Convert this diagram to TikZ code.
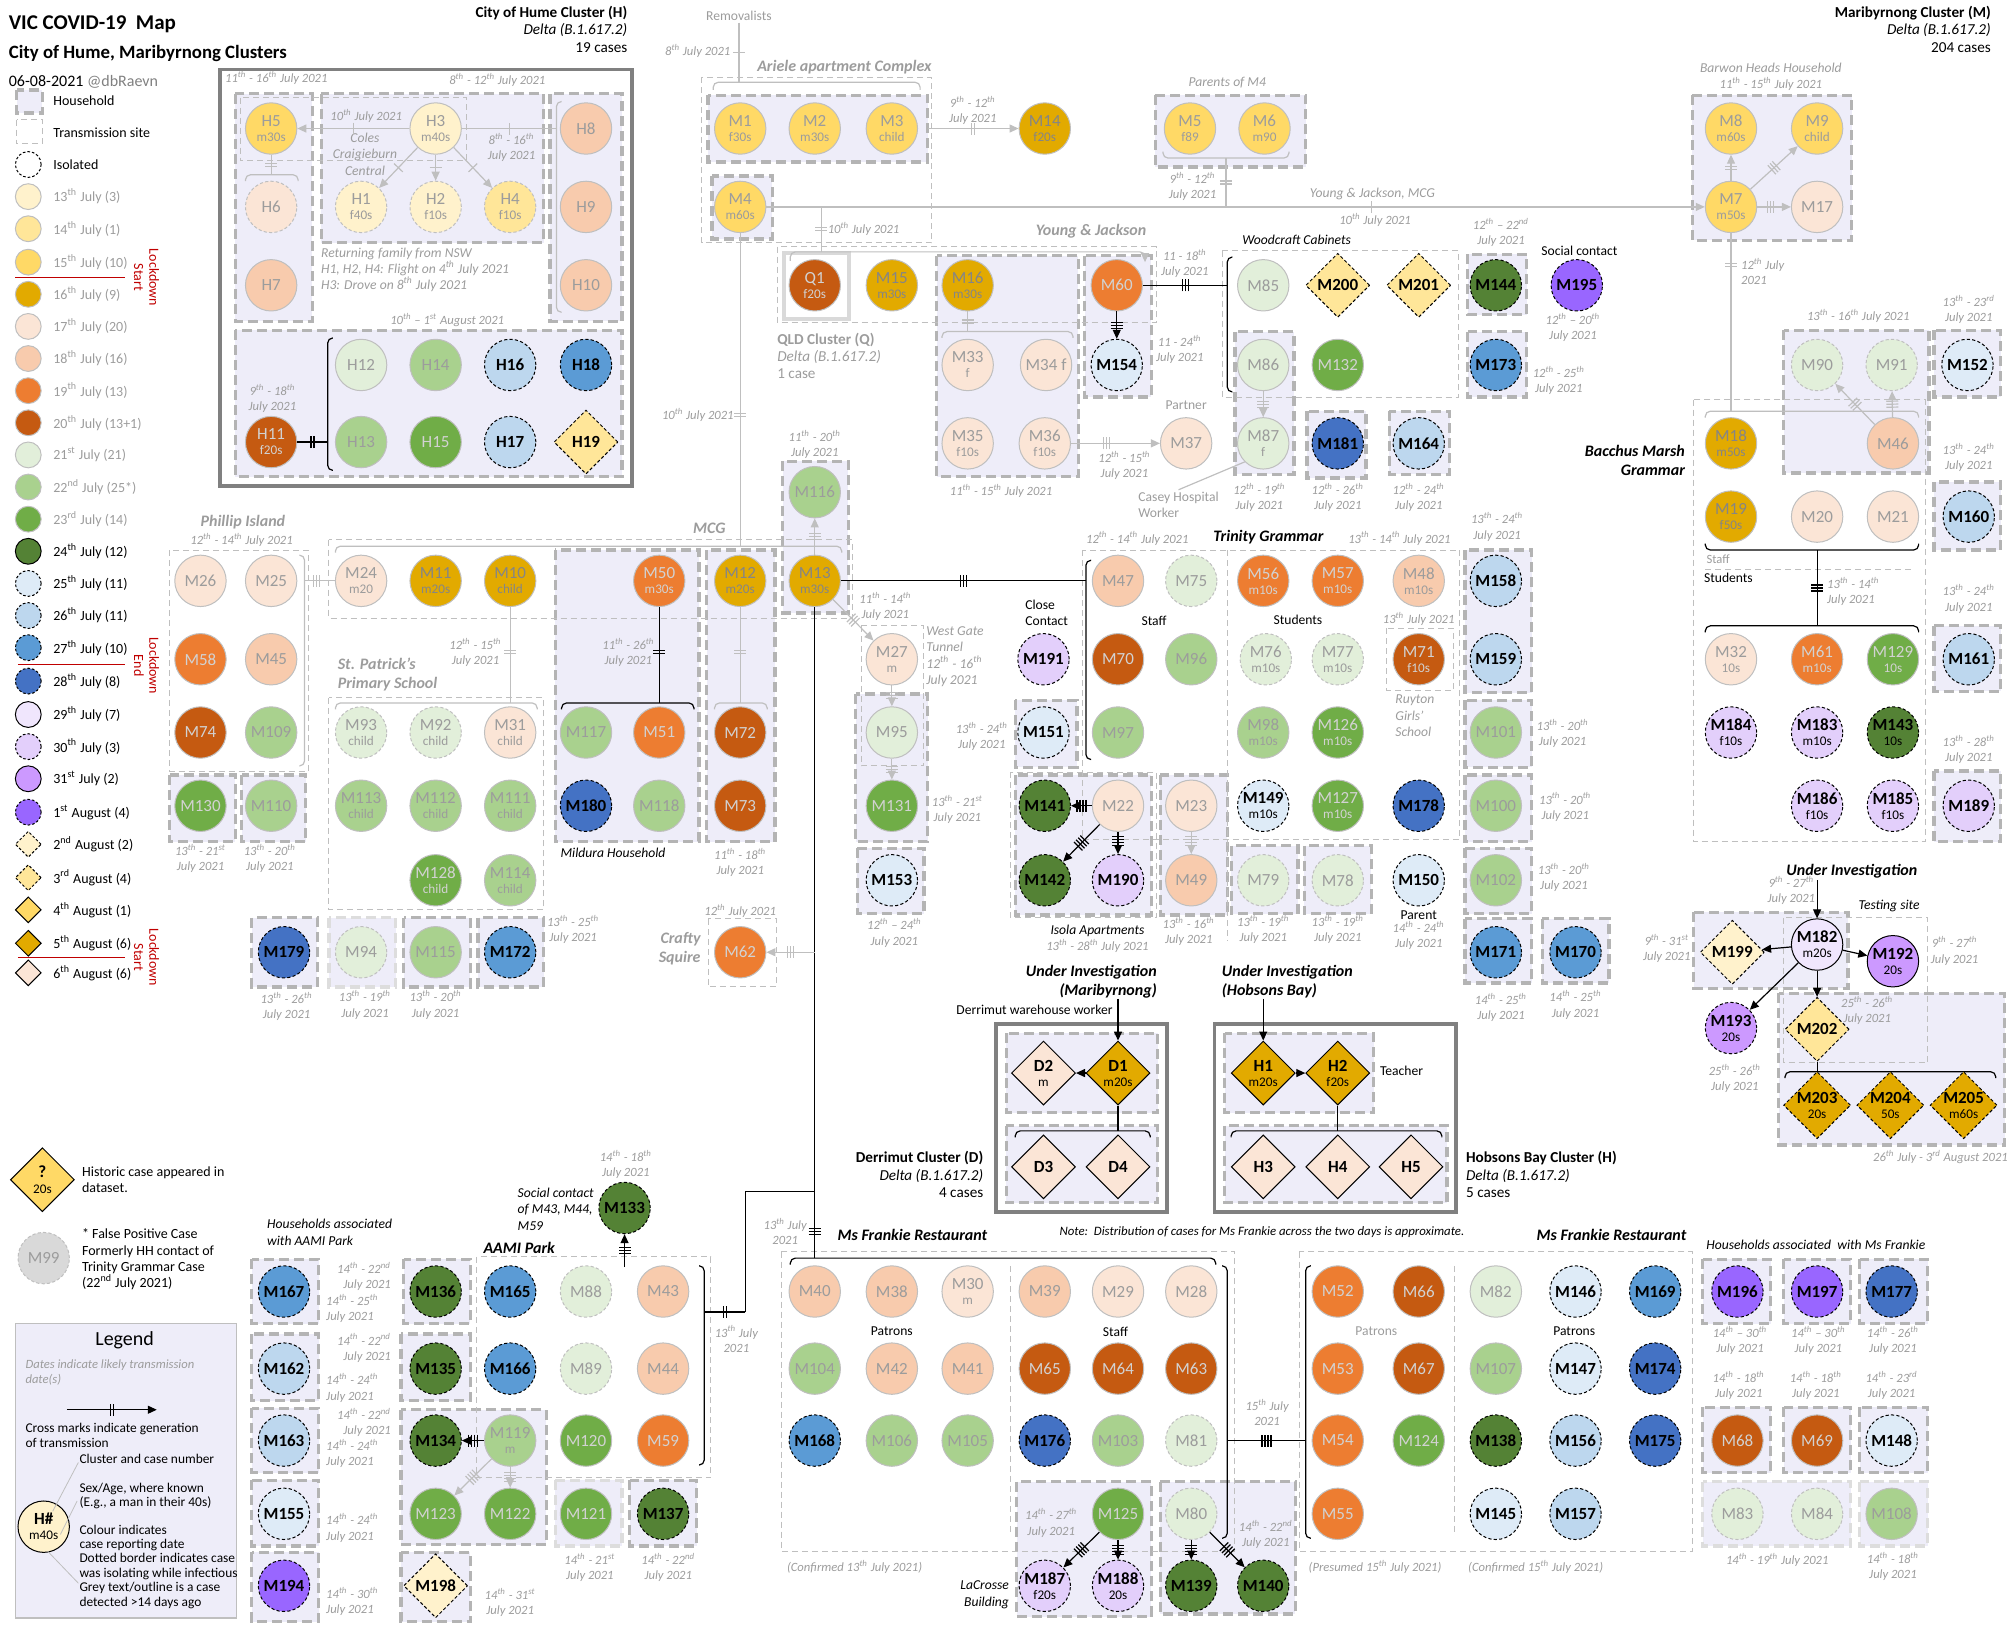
\documentclass[tikz,border=0pt]{standalone}
\usepackage{fontspec}
\setmainfont{Carlito}
\usepackage{tikz}
\usetikzlibrary{positioning,arrows.meta,shapes.geometric,decorations.markings}

% reporting-date colours
\definecolor{c13}{HTML}{FFF2CC}
\definecolor{c14}{HTML}{FFE699}
\definecolor{c15}{HTML}{FFD966}
\definecolor{c16}{HTML}{E2AA00}
\definecolor{c17}{HTML}{FBE5D6}
\definecolor{c18}{HTML}{F8CBAD}
\definecolor{c19}{HTML}{ED7D31}
\definecolor{c20}{HTML}{C55A11}
\definecolor{c21}{HTML}{E2EFDA}
\definecolor{c22}{HTML}{A9D18E}
\definecolor{c23}{HTML}{70AD47}
\definecolor{c24}{HTML}{548235}
\definecolor{c25}{HTML}{DEEBF7}
\definecolor{c26}{HTML}{BDD7EE}
\definecolor{c27}{HTML}{5B9BD5}
\definecolor{c28}{HTML}{4472C4}
\definecolor{c29}{HTML}{F0E6FD}
\definecolor{c30}{HTML}{E3CFFB}
\definecolor{c31}{HTML}{CC99FF}
\definecolor{a1}{HTML}{9966FF}
\definecolor{a2}{HTML}{FFF2CC}
\definecolor{a3}{HTML}{FFE699}
\definecolor{a4}{HTML}{FFD966}
\definecolor{a5}{HTML}{E2AA00}
\definecolor{a6}{HTML}{FBE5D6}
% greys
\definecolor{gtx}{HTML}{9C9C9C}
\definecolor{oln}{HTML}{BFBFBF}
\definecolor{hhd}{HTML}{B4B4B4}
\definecolor{hhf}{HTML}{EEEDF9}
\definecolor{frm}{HTML}{808080}
\definecolor{fpc}{HTML}{D9D9D9}
\definecolor{lkd}{HTML}{C00000}
% grey text on each fill
\colorlet{tc13}{gtx}
\colorlet{tc14}{gtx}
\colorlet{tc15}{gtx}
\definecolor{tc16}{HTML}{858585}
\colorlet{tc17}{gtx}
\colorlet{tc18}{gtx}
\definecolor{tc19}{HTML}{D2D2D2}
\definecolor{tc20}{HTML}{D2D2D2}
\colorlet{tc21}{gtx}
\colorlet{tc22}{gtx}
\definecolor{tc23}{HTML}{D2D2D2}
\colorlet{tfpc}{gtx}

\newcommand{\thx}{\textsuperscript{th}}
\newcommand{\stx}{\textsuperscript{st}}
\newcommand{\ndx}{\textsuperscript{nd}}
\newcommand{\rdx}{\textsuperscript{rd}}
\newcommand{\casefont}{\fontsize{8.5}{9}\selectfont}
\newcommand{\agefont}{\fontsize{6.6}{7}\selectfont}
\newcommand{\datefont}{\fontsize{6.3}{7.6}\selectfont}
\newcommand{\labfont}{\fontsize{6.8}{8.1}\selectfont}
\newcommand{\grpfont}{\fontsize{8}{9.6}\selectfont}
\newcommand{\legfont}{\fontsize{7}{8.2}\selectfont}
\newcommand{\smallfont}{\fontsize{6.7}{7.2}\selectfont}

\begin{document}
\begin{tikzpicture}[x=0.6425pt, y=-0.6425pt,
  font=\labfont,
  cs/.style={circle, minimum size=25.7pt, inner sep=0pt, align=center, font=\casefont, fill=#1},
  old/.style={cs=#1, draw=oln, line width=0.5pt, text=t#1},
  oldd/.style={old=#1, dash pattern=on 1.6pt off 1.1pt},
  cur/.style={cs=#1, draw=black, line width=0.5pt, dash pattern=on 1.6pt off 1.1pt, font=\casefont\bfseries},
  curs/.style={cs=#1, draw=black, line width=0.5pt, font=\casefont\bfseries},
  dm/.style={diamond, aspect=1, minimum width=32pt, minimum height=32pt, inner sep=0pt, align=center,
             draw=black, line width=0.5pt, fill=#1, font=\casefont\bfseries},
  dmd/.style={dm=#1, dash pattern=on 1.6pt off 1.1pt},
  lgc/.style={circle, minimum size=12.9pt, inner sep=0pt, line width=0.5pt, fill=#1},
  lgd/.style={diamond, aspect=1, minimum width=13pt, minimum height=13pt, inner sep=0pt,
              line width=0.5pt, draw=black, fill=#1},
  lgt/.style={anchor=west, font=\legfont},
  hh/.style={draw=hhd, line width=1.6pt, dash pattern=on 5pt off 2.5pt, fill=hhf},
  hhl/.style={hh, draw=hhd!45},
  site/.style={draw=oln, line width=0.5pt, dash pattern=on 3pt off 2pt},
  clu/.style={draw=frm, line width=1.8pt},
  tx/.style={inner sep=1pt, align=center},
  dt/.style={tx, font=\datefont\itshape, text=gtx},
  gt/.style={tx, text=gtx},
  gti/.style={tx, text=gtx, font=\labfont\itshape},
  bti/.style={tx, font=\labfont\itshape},
  grp/.style={tx, font=\grpfont\bfseries\itshape},
  br/.style={line width=0.6pt, rounded corners=2.5pt},
  gl/.style={color=oln, line width=0.6pt},
  bl/.style={color=black, line width=0.6pt},
  >={Triangle[length=4.5pt,width=4pt]},
  gen/.style 2 args={postaction={decorate, decoration={markings, mark=at position #2 with
    {\foreach \q in {1,...,#1}{\draw[solid,-] ({(\q-(#1+1)/2)*1.5pt},-3pt) -- ({(\q-(#1+1)/2)*1.5pt},3pt);}}}}}
]
\useasboundingbox (0,0) rectangle (1568,1265);

% households
\foreach \a/\b/\c/\d in {
  13/70/33/88,
  183/73/243/250, 250/73/423/189, 428/73/484/250, 183/257/484/371,
  551/74/722/126, 554/137/601/186, 899/74/1016/130, 1317/74/1441/187,
  729/199/839/371, 844/199/896/309, 961/258/1007/369, 1017/320/1063/372,
  1081/320/1128/369, 1142/198/1188/245, 1142/258/1188/309,
  1388/257/1501/368, 1505/257/1557/309, 1505/375/1557/428, 1505/487/1557/538, 1505/600/1557/655,
  432/428/544/655, 550/428/603/655, 609/359/660/477,
  132/603/183/655, 188/603/238/655,
  196/714/247/768, 314/714/366/768, 372/714/423/768,
  666/540/722/655, 667/660/719/711, 790/545/838/597,
  790/603/896/712, 903/603/955/712, 958/658/1010/711, 1015/658/1067/711,
  1140/428/1192/539, 1140/545/1192/597, 1140/603/1192/655, 1140/660/1192/711,
  1140/715/1192/765, 1200/715/1252/765,
  1318/710/1438/769, 1384/773/1560/891,
  783/804/901/866, 783/876/901/936, 953/804/1069/866, 953/876/1126/936,
  196/980/248/1030, 196/1038/248/1090, 196/1096/248/1146, 196/1152/248/1203, 196/1208/248/1262,
  314/980/366/1030, 312/1038/366/1090, 312/1097/425/1202, 490/1152/542/1203, 312/1208/366/1262,
  791/1153/896/1258, 903/1153/1008/1256,
  1325/980/1378/1030, 1388/980/1440/1030, 1447/980/1500/1030,
  1325/1095/1378/1146, 1388/1095/1440/1146, 1447/1095/1500/1146}
  \draw[hh] (\a,\b) rectangle (\c,\d);
\foreach \a/\b/\c/\d in {256/714/308/768, 432/1152/484/1203, 1325/1153/1440/1203, 1447/1153/1500/1203}
  \draw[hhl] (\a,\b) rectangle (\c,\d);

% transmission sites
\foreach \a/\b/\c/\d in {
  13/93/33/112,
  187/76/363/125, 546/60/725/189, 605/192/900/251, 951/195/1135/309,
  132/428/240/600, 256/420/663/481, 256/543/423/708, 670/487/719/596,
  842/428/1136/653, 1079/489/1131/537, 786/601/900/714,
  1318/311/1498/655, 1388/714/1500/827, 551/715/604/768,
  371/978/553/1150, 608/974/961/1207, 1011/974/1317/1207}
  \draw[site] (\a,\b) rectangle (\c,\d);
\draw[site] (955,428) -- (955,732);
\draw[site] (1327,443) -- (1488,443);
\draw[site] (786,985) -- (786,1195);
\draw[site] (1132,985) -- (1132,1195);

% cluster frames
\draw[clu] (171,54) rectangle (492,378);
\draw[clu] (775,797) rectangle (908,943);
\draw[clu] (945,797) rectangle (1133,943);
\draw[draw=fpc, line width=2pt] (610,197) rectangle (661,248);

% brackets
\draw[br, oln] (555,70) -- (555,64) -- (716,64) -- (716,70);
\draw[br, oln] (191,141) -- (191,136) -- (232,136) -- (232,141);
\draw[br, oln] (437,79) -- (433,79) -- (433,243) -- (437,243);
\draw[br, oln] (905,118) -- (905,123) -- (1003,123) -- (1003,118);
\draw[br, oln, ->] (615,203) -- (615,196) -- (891,196) -- (891,204);
\draw[br, oln] (733,263) -- (733,258) -- (835,258) -- (835,263);
\draw[br, oln] (1327,325) -- (1327,320) -- (1493,320) -- (1493,325);
\draw[br, oln] (261,430) -- (261,425) -- (655,425) -- (655,430);
\draw[br, oln] (233,432) -- (237,432) -- (237,596) -- (233,596);
\draw[br, oln] (261,552) -- (261,547) -- (418,547) -- (418,552);
\draw[br, oln] (556,552) -- (556,547) -- (597,547) -- (597,552);
\draw[br] (259,263) -- (255,263) -- (255,366) -- (259,366);
\draw[br] (959,200) -- (955,200) -- (955,305) -- (959,305);
\draw[br] (1327,423) -- (1327,428) -- (1493,428) -- (1493,423);
\draw[br] (1327,492) -- (1327,487) -- (1493,487) -- (1493,492);
\draw[br] (437,552) -- (437,547) -- (540,547) -- (540,552);
\draw[br] (849,436) -- (845,436) -- (845,591) -- (849,591);
\draw[br] (790,885) -- (790,880) -- (895,880) -- (895,885);
\draw[br] (958,885) -- (958,880) -- (1122,880) -- (1122,885);
\draw[br] (1389,839) -- (1389,834) -- (1553,834) -- (1553,839);
\draw[br] (544,985) -- (548,985) -- (548,1140) -- (544,1140);
\draw[br] (615,984) -- (615,979) -- (946,979) -- (946,984);
\draw[br] (951,985) -- (955,985) -- (955,1197) -- (951,1197);
\draw[br] (1020,985) -- (1016,985) -- (1016,1197) -- (1020,1197);

% title block
\node[tx, anchor=west, font=\fontsize{10.5}{12}\selectfont\bfseries] (title) at (5,19) {VIC COVID-19\ \ Map};
\node[tx, anchor=west, font=\fontsize{9.4}{11}\selectfont\bfseries] (subtitle) at (5,42) {City of Hume, Maribyrnong Clusters};
\node[tx, anchor=west, font=\fontsize{8}{10}\selectfont] (stamp) at (5,64) {06-08-2021 \textcolor{gray}{@dbRaevn}};
\node[tx, anchor=north east, align=right, font=\fontsize{7.6}{8.7}\selectfont] (hinfo) at (490,3) {\textbf{City of Hume Cluster (H)}\\\textit{Delta (B.1.617.2)}\\19 cases};
\node[tx, anchor=north east, align=right, font=\fontsize{7.6}{8.7}\selectfont] (minfo) at (1551,3) {\textbf{Maribyrnong Cluster (M)}\\\textit{Delta (B.1.617.2)}\\204 cases};
\node[tx, anchor=west, align=left, text=gtx, font=\fontsize{7.6}{8.7}\selectfont] (qinfo) at (603,277) {\textbf{QLD Cluster (Q)}\\\textit{Delta (B.1.617.2)}\\1 case};
\node[tx, anchor=east, align=right, font=\fontsize{7.6}{8.7}\selectfont] (dinfo) at (767,914) {\textbf{Derrimut Cluster (D)}\\\textit{Delta (B.1.617.2)}\\4 cases};
\node[tx, anchor=west, align=left, font=\fontsize{7.6}{8.7}\selectfont] (hbinfo) at (1139,914) {\textbf{Hobsons Bay Cluster (H)}\\\textit{Delta (B.1.617.2)}\\5 cases};

% legend column
\node[lgt] (lhh) at (36,78) {Household};
\node[lgt] (lts) at (36,103) {Transmission site};
\node[lgc=white, draw=black, dash pattern=on 1.3pt off 1pt] (lgi) at (22,128) {};
\node[lgt] (lis) at (36,128) {Isolated};
\foreach \y/\cc/\txt [count=\ii] in {153/c13/13\thx{} July (3), 178/c14/14\thx{} July (1), 204/c15/15\thx{} July (10),
  229/c16/16\thx{} July (9), 254/c17/17\thx{} July (20), 279/c18/18\thx{} July (16), 304/c19/19\thx{} July (13),
  329/c20/20\thx{} July (13+1), 354/c21/21\stx{} July (21), 379/c22/22\ndx{} July (25*), 404/c23/23\rdx{} July (14)}{
  \node[lgc=\cc, draw=oln] (lc\ii) at (22,\y) {};
  \node[lgt, text=gtx] (lt\ii) at (36,\y) {\txt};
}
\foreach \y/\cc/\txt [count=\ii] in {429/c24/24\thx{} July (12), 556/c29/29\thx{} July (7), 606/c31/31\stx{} July (2)}{
  \node[lgc=\cc, draw=black] (ls\ii) at (22,\y) {};
  \node[lgt] (lst\ii) at (36,\y) {\txt};
}
\foreach \y/\cc/\txt [count=\ii] in {454/c25/25\thx{} July (11), 479/c26/26\thx{} July (11), 504/c27/27\thx{} July (10),
  530/c28/28\thx{} July (8), 581/c30/30\thx{} July (3), 632/a1/1\stx{} August (4)}{
  \node[lgc=\cc, draw=black, dash pattern=on 1.3pt off 1pt] (ld\ii) at (22,\y) {};
  \node[lgt] (ldt\ii) at (36,\y) {\txt};
}
\foreach \y/\cc/\txt [count=\ii] in {657/a2/2\ndx{} August (2), 683/a3/3\rdx{} August (4)}{
  \node[lgd=\cc, dash pattern=on 1.3pt off 1pt] (lq\ii) at (22,\y) {};
  \node[lgt] (lqt\ii) at (36,\y) {\txt};
}
\foreach \y/\cc/\txt [count=\ii] in {708/a4/4\thx{} August (1), 734/a5/5\thx{} August (6), 757/a6/6\thx{} August (6)}{
  \node[lgd=\cc] (lr\ii) at (22,\y) {};
  \node[lgt] (lrt\ii) at (36,\y) {\txt};
}
\draw[lkd, line width=0.7pt] (12,216) -- (97,216);
\draw[lkd, line width=0.7pt] (14,517) -- (97,517);
\draw[lkd, line width=0.7pt] (14,745) -- (97,745);
\node[tx, rotate=-90, text=lkd, font=\fontsize{7}{7.6}\selectfont] (lk1) at (114,216) {Lockdown\\Start};
\node[tx, rotate=-90, text=lkd, font=\fontsize{7}{7.6}\selectfont] (lk2) at (114,518) {Lockdown\\End};
\node[tx, rotate=-90, text=lkd, font=\fontsize{7}{7.6}\selectfont] (lk3) at (114,745) {Lockdown\\Start};

\node[dm=a4] (lgq) at (33,918) {?\\[-1pt]\agefont\mdseries 20s};
\node[tx, anchor=west, align=left, font=\legfont] (lgqt) at (62,918) {Historic case appeared in\\dataset.};
\node[oldd=fpc] (M99) at (34,979) {M99};
\node[tx, anchor=west, align=left, font=\legfont] (lgft) at (62,980) {* False Positive Case\\Formerly HH contact of\\Trinity Grammar Case\\(22\ndx{} July 2021)};

% legend box
\draw[fill=hhf, draw=oln, line width=0.6pt] (12,1030) rectangle (184,1259);
\node[tx, font=\fontsize{10}{12}\selectfont] (leg) at (97,1043) {Legend};
\node[tx, anchor=west, align=left, text=gtx, font=\datefont\itshape] (legd) at (18,1068) {Dates indicate likely transmission\\date(s)};
\coordinate (la1) at (52,1097);
\coordinate (la2) at (122,1097);
\draw[bl, ->, gen={2}{.5}] (la1) -- (la2);
\node[tx, anchor=west, align=left, font=\smallfont] (legx) at (18,1117) {Cross marks indicate generation\\of transmission};
\node[tx, anchor=west, font=\smallfont] (legc) at (60,1135) {Cluster and case number};
\node[tx, anchor=west, align=left, font=\smallfont] (legs) at (60,1164) {Sex/Age, where known\\(E.g., a man in their 40s)};
\node[tx, anchor=west, align=left, font=\smallfont] (legk) at (60,1219) {Colour indicates\\case reporting date\\Dotted border indicates case\\was isolating while infectious\\Grey text/outline is a case\\detected >14 days ago};
\node[curs=c13] (lgh) at (34,1188) {H\#\\[-1.5pt]\agefont\mdseries m40s};
\coordinate (lp1) at (41,1176);
\coordinate (lp2) at (61,1138);
\coordinate (lp3) at (47,1194);
\coordinate (lp4) at (60,1168);
\coordinate (lp5) at (37,1207);
\coordinate (lp6) at (61,1232);
\draw[gl, line width=0.4pt] (lp1) -- (lp2);
\draw[gl, line width=0.4pt] (lp3) -- (lp4);
\draw[gl, line width=0.4pt] (lp5) -- (lp6);

% cases: old, grey outline
\foreach \n/\x/\y/\cc in {H7/211/222/c18, H8/456/100/c18, H9/456/161/c18, H10/456/222/c18, H12/281/284/c21,
  H14/339/284/c22, H13/281/344/c22, H15/339/344/c23,
  M17/1414/161/c17, M37/923/345/c17, M85/983/222/c21, M86/983/284/c21, M132/1041/284/c23, M60/869/222/c19,
  M20/1414/402/c17, M21/1473/402/c17, M46/1473/345/c18,
  M26/156/452/c17, M25/211/452/c17, M58/156/513/c19, M45/211/513/c18, M74/156/570/c20, M109/211/570/c22,
  M130/156/627/c23, M110/211/627/c22,
  M117/456/570/c22, M51/513/570/c19, M118/513/627/c22, M72/576/570/c20, M73/576/627/c20, M116/634/383/c22,
  M95/694/570/c21, M131/694/627/c23,
  M47/870/452/c18, M70/870/513/c20, M96/927/513/c22, M97/870/570/c22, M101/1164/570/c22, M100/1164/627/c22,
  M102/1164/685/c22, M22/870/627/c17, M23/927/627/c17, M49/927/685/c18, M62/576/741/c19, M115/339/741/c22,
  M43/516/1005/c18, M44/516/1065/c18, M120/456/1121/c23, M59/516/1121/c19, M123/339/1178/c23, M122/397/1178/c23,
  M121/456/1178/c23,
  M40/634/1005/c18, M38/694/1005/c18, M39/813/1005/c18, M29/870/1005/c17, M28/927/1005/c17, M104/634/1065/c22,
  M42/694/1065/c18, M41/753/1065/c18, M65/813/1065/c20, M64/870/1065/c20, M63/927/1065/c20, M106/694/1121/c22,
  M105/753/1121/c22, M103/870/1121/c22, M125/870/1178/c23,
  M52/1041/1005/c19, M66/1104/1005/c20, M53/1041/1065/c19, M67/1104/1065/c20, M54/1041/1121/c19,
  M124/1104/1121/c23, M55/1041/1178/c19, M82/1164/1005/c21, M107/1164/1065/c22, M68/1352/1121/c20,
  M69/1414/1121/c20, M108/1472/1178/c22}
  \node[old=\cc] (\n) at (\x,\y) {\n};
\node[old=c17] (M34) at (814,284) {M34 f};
\foreach \n/\x/\y/\cc/\sb in {H5/211/100/c15/m30s, H3/339/100/c13/m40s, H11/211/344/c20/f20s,
  M1/576/100/c15/f30s, M2/634/100/c15/m30s, M3/694/100/c15/child, M4/576/161/c15/m60s, M14/813/100/c16/f20s,
  M5/926/100/c15/f89, M6/984/100/c15/m90, M8/1347/100/c15/m60s, M9/1414/100/c15/child, M7/1347/161/c15/m50s,
  Q1/634/222/c20/f20s, M15/694/222/c16/m30s, M16/753/222/c16/m30s, M33/753/284/c17/f, M35/753/345/c17/f10s,
  M36/813/345/c17/f10s, M87/983/345/c21/f, M18/1347/345/c16/m50s, M19/1347/402/c16/f50s, M32/1347/513/c17/10s,
  M61/1414/513/c19/m10s, M129/1473/513/c23/10s, M24/281/452/c17/m20, M11/339/452/c16/m20s,
  M10/397/452/c16/child, M50/513/452/c19/m30s, M12/576/452/c16/m20s, M13/634/452/c16/m30s,
  M31/397/570/c17/child, M113/281/627/c22/child, M112/339/627/c22/child, M111/397/627/c22/child,
  M128/339/685/c23/child, M114/397/685/c22/child, M27/694/513/c17/m, M56/983/452/c19/m10s,
  M57/1041/452/c19/m10s, M48/1104/452/c18/m10s, M71/1104/513/c20/f10s, M98/983/570/c22/m10s,
  M126/1041/570/c23/m10s, M127/1041/627/c23/m10s, M119/397/1121/c22/m, M30/753/1005/c17/m}
  \node[old=\cc] (\n) at (\x,\y) {\n\\[-1.5pt]\agefont\sb};
% old, isolated
\foreach \n/\x/\y/\cc in {H6/211/161/c17, M90/1414/284/c21, M91/1472/284/c21, M75/927/452/c21, M79/983/685/c21,
  M78/1041/685/c21, M94/281/741/c21, M88/456/1005/c21, M89/456/1065/c21, M81/927/1121/c21, M80/927/1178/c21,
  M83/1352/1178/c21, M84/1414/1178/c21}
  \node[oldd=\cc] (\n) at (\x,\y) {\n};
\foreach \n/\x/\y/\cc/\sb in {H1/281/161/c13/f40s, H2/339/161/c13/f10s, H4/397/161/c14/f10s,
  M93/281/570/c21/child, M92/339/570/c21/child, M76/985/513/c21/m10s, M77/1041/513/c21/m10s}
  \node[oldd=\cc] (\n) at (\x,\y) {\n\\[-1.5pt]\agefont\sb};
% recent, isolated
\foreach \n/\x/\y/\cc in {H16/397/284/c26, H18/456/284/c27, H17/397/344/c26, M154/869/284/c25,
  M144/1164/222/c24, M173/1164/284/c27, M195/1227/222/a1, M181/1041/345/c28, M164/1104/345/c26,
  M152/1531/284/c25, M160/1532/402/c26, M161/1532/513/c26, M189/1532/627/c30, M180/456/627/c28,
  M179/221/741/c28, M172/397/741/c27, M153/694/685/c25, M151/812/570/c25, M191/812/513/c30,
  M141/813/627/c24, M142/813/685/c24, M190/870/685/c30, M158/1164/452/c26, M159/1164/513/c26,
  M178/1104/627/c28, M150/1104/685/c25, M171/1164/741/c27, M170/1226/741/c27, M133/486/940/c24,
  M167/221/1005/c27, M162/221/1065/c26, M163/221/1121/c26, M155/221/1178/c25, M194/221/1234/a1,
  M136/339/1005/c24, M135/339/1065/c24, M134/339/1121/c24, M165/397/1005/c27, M166/397/1065/c27,
  M137/516/1178/c24, M168/634/1121/c27, M176/813/1121/c28, M139/927/1234/c24, M140/983/1234/c24,
  M146/1226/1005/c25, M169/1288/1005/c27, M147/1226/1065/c25, M174/1288/1065/c28, M138/1164/1121/c24,
  M156/1226/1121/c26, M175/1288/1121/c28, M145/1164/1178/c25, M157/1226/1178/c26,
  M196/1352/1005/a1, M197/1414/1005/a1, M177/1472/1005/c28, M148/1472/1121/c25}
  \node[cur=\cc] (\n) at (\x,\y) {\n};
\foreach \n/\x/\y/\cc/\sb in {M184/1347/570/c30/f10s, M183/1414/570/c30/m10s, M143/1473/570/c24/10s,
  M186/1414/627/c30/f10s, M185/1473/627/c30/f10s, M149/983/627/c25/m10s, M193/1347/800/c31/20s,
  M187/813/1234/c30/f20s, M188/870/1234/c30/20s}
  \node[cur=\cc] (\n) at (\x,\y) {\n\\[-1.5pt]\agefont\mdseries\sb};
\node[curs=c29] (M182) at (1414,735) {M182\\[-1.5pt]\agefont\mdseries m20s};
\node[curs=c31] (M192) at (1473,748) {M192\\[-1.5pt]\agefont\mdseries 20s};
% August cases
\foreach \n/\x/\y/\cc in {M200/1041/222/a3, M201/1104/222/a3, H19/456/344/a3, M199/1348/741/a2,
  M202/1414/801/a3, M198/339/1234/a2}
  \node[dmd=\cc] (\n) at (\x,\y) {\n};
\foreach \n/\x/\y/\sb in {M203/1414/860/20s, M204/1471/860/50s, M205/1528/860/m60s}
  \node[dmd=a5] (\n) at (\x,\y) {\n\\[-1.5pt]\agefont\mdseries\sb};
\node[dm=a6] (D2) at (812,835) {D2\\[-1.5pt]\agefont\mdseries m};
\node[dm=a5] (D1) at (870,835) {D1\\[-1.5pt]\agefont\mdseries m20s};
\node[dm=a6] (D3) at (812,908) {D3};
\node[dm=a6] (D4) at (870,908) {D4};
\node[dm=a5] (HB1) at (983,835) {H1\\[-1.5pt]\agefont\mdseries m20s};
\node[dm=a5] (HB2) at (1041,835) {H2\\[-1.5pt]\agefont\mdseries f20s};
\node[dm=a6] (HB3) at (983,908) {H3};
\node[dm=a6] (HB4) at (1041,908) {H4};
\node[dm=a6] (HB5) at (1098,908) {H5};

% date labels
\foreach \x/\y/\txt [count=\ii] in {
  215/61/11\thx{} - 16\thx{} July 2021, 387/62/8\thx{} - 12\thx{} July 2021, 285/90/10\thx{} July 2021,
  398/115/8\thx{} - 16\thx{}\\July 2021, 348/249/10\thx{} -- 1\stx{} August 2021, 212/310/9\thx{} - 18\thx{}\\July 2021,
  757/86/9\thx{} - 12\thx{}\\July 2021, 928/145/9\thx{} - 12\thx{}\\July 2021, 1070/171/10\thx{} July 2021,
  672/178/10\thx{} July 2021, 922/205/11 - 18\thx{}\\July 2021, 918/272/11 - 24\thx{}\\July 2021,
  1168/181/12\thx{} -- 22\ndx{}\\July 2021, 1224/255/12\thx{} -- 20\thx{}\\July 2021, 1213/296/12\thx{} - 25\thx{}\\July 2021,
  875/362/12\thx{} - 15\thx{}\\July 2021, 779/382/11\thx{} - 15\thx{} July 2021, 980/387/12\thx{} - 19\thx{}\\July 2021,
  1041/387/12\thx{} - 26\thx{}\\July 2021, 1104/387/12\thx{} - 24\thx{}\\July 2021, 1378/65/11\thx{} - 15\thx{} July 2021,
  1532/241/13\thx{} - 23\rdx{}\\July 2021, 1446/246/13\thx{} - 16\thx{} July 2021, 1532/356/13\thx{} - 24\thx{}\\July 2021,
  1532/466/13\thx{} - 24\thx{}\\July 2021, 1532/583/13\thx{} - 28\thx{}\\July 2021, 634/346/11\thx{} - 20\thx{}\\July 2021,
  188/420/12\thx{} - 14\thx{} July 2021, 370/508/12\thx{} - 15\thx{}\\July 2021, 489/508/11\thx{} - 26\thx{}\\July 2021,
  689/472/11\thx{} - 14\thx{}\\July 2021, 885/419/12\thx{} - 14\thx{} July 2021, 1089/419/13\thx{} - 14\thx{} July 2021,
  1165/410/13\thx{} - 24\thx{}\\July 2021, 1104/482/13\thx{} July 2021, 764/573/13\thx{} - 24\thx{}\\July 2021,
  1216/571/13\thx{} - 20\thx{}\\July 2021, 1218/628/13\thx{} - 20\thx{}\\July 2021, 1217/683/13\thx{} - 20\thx{}\\July 2021,
  745/630/13\thx{} - 21\stx{}\\July 2021, 156/668/13\thx{} - 21\stx{}\\July 2021, 210/668/13\thx{} - 20\thx{}\\July 2021,
  576/671/11\thx{} - 18\thx{}\\July 2021, 696/726/12\thx{} -- 24\thx{}\\July 2021, 576/709/12\thx{} July 2021,
  925/725/13\thx{} - 16\thx{}\\July 2021, 983/723/13\thx{} - 19\thx{}\\July 2021, 1041/723/13\thx{} - 19\thx{}\\July 2021,
  1104/728/14\thx{} - 24\thx{}\\July 2021, 1168/784/14\thx{} - 25\thx{}\\July 2021, 1226/782/14\thx{} - 25\thx{}\\July 2021,
  854/736/13\thx{} - 28\thx{} July 2021, 223/783/13\thx{} - 26\thx{}\\July 2021, 284/782/13\thx{} - 19\thx{}\\July 2021,
  339/782/13\thx{} - 20\thx{}\\July 2021, 446/723/13\thx{} - 25\thx{}\\July 2021, 1394/693/9\thx{} - 27\thx{}\\July 2021,
  1297/738/9\thx{} - 31\stx{}\\July 2021, 1521/740/9\thx{} - 27\thx{}\\July 2021, 1350/839/25\thx{} - 26\thx{}\\July 2021,
  1453/786/25\thx{} - 26\thx{}\\July 2021, 1510/900/26\thx{} July - 3\rdx{} August 2021, 487/906/14\thx{} - 18\thx{}\\July 2021,
  459/1220/14\thx{} - 21\stx{}\\July 2021, 520/1220/14\thx{} - 22\ndx{}\\July 2021, 397/1247/14\thx{} - 31\stx{}\\July 2021,
  818/1185/14\thx{} - 27\thx{}\\July 2021, 985/1194/14\thx{} - 22\ndx{}\\July 2021, 986/1099/15\thx{} July\\2021,
  573/1042/13\thx{} July\\2021, 611/958/13\thx{} July\\2021, 665/1219/(Confirmed 13\thx{} July 2021),
  1070/1219/(Presumed 15\thx{} July 2021), 1195/1219/(Confirmed 15\thx{} July 2021),
  1354/1043/14\thx{} -- 30\thx{}\\July 2021, 1415/1043/14\thx{} -- 30\thx{}\\July 2021, 1473/1043/14\thx{} - 26\thx{}\\July 2021,
  1353/1078/14\thx{} - 18\thx{}\\July 2021, 1413/1078/14\thx{} - 18\thx{}\\July 2021, 1472/1078/14\thx{} - 23\rdx{}\\July 2021,
  1383/1214/14\thx{} - 19\thx{} July 2021, 1473/1219/14\thx{} - 18\thx{}\\July 2021, 543/40/8\thx{} July 2021,
  543/323/10\thx{} July 2021}
  \node[dt] (dl\ii) at (\x,\y) {\txt};
\foreach \y/\txt [count=\ii] in {993/14\thx{} - 22\ndx{}\\July 2021, 1049/14\thx{} - 22\ndx{}\\July 2021, 1107/14\thx{} - 22\ndx{}\\July 2021}
  \node[dt, anchor=east, align=right] (dr\ii) at (306,\y) {\txt};
\foreach \y/\txt [count=\ii] in {1018/14\thx{} - 25\thx{}\\July 2021, 1080/14\thx{} - 24\thx{}\\July 2021, 1131/14\thx{} - 24\thx{}\\July 2021,
  1189/14\thx{} - 24\thx{}\\July 2021, 1246/14\thx{} - 30\thx{}\\July 2021}
  \node[dt, anchor=west, align=left] (dk\ii) at (252,\y) {\txt};
\node[dt, anchor=west, align=left] (dm7) at (1353,211) {12\thx{} July\\2021};
\node[dt, anchor=west, align=left] (dbm) at (1420,460) {13\thx{} - 14\thx{}\\July 2021};

% other texts
\node[gt] (rem) at (575,12) {Removalists};
\node[gti] (pm4) at (955,64) {Parents of M4};
\node[gti] (bhh) at (1378,53) {Barwon Heads Household};
\node[gt] (partner) at (923,315) {Partner};
\node[gt, anchor=west, align=left] (casey) at (884,393) {Casey Hospital\\Worker};
\node[gt, font=\datefont] (bstaff) at (1337,435) {Staff};
\node[gt] (fpat) at (1071,1036) {Patrons};
\node[gti] (coles) at (284,120) {Coles\\Craigieburn\\Central};
\node[gti, anchor=west, align=left] (nsw) at (248,210) {Returning family from NSW\\H1, H2, H4: Flight on 4\thx{} July 2021\\H3: Drove on 8\thx{} July 2021};
\node[gti, anchor=west, align=left] (wgt) at (719,511) {West Gate\\Tunnel\\12\thx{} - 16\thx{}\\July 2021};
\node[gti, anchor=west, align=left] (ruy) at (1084,557) {Ruyton\\Girls'\\School};
\node[gti] (yjm) at (1068,151) {Young \& Jackson, MCG};
\node[bti] (wood) at (1009,187) {Woodcraft Cabinets};
\node[tx] (soc) at (1229,195) {Social contact};
\node[tx, anchor=west, align=left] (close) at (796,477) {Close\\Contact};
\node[tx] (tstaff) at (898,483) {Staff};
\node[tx] (tstud) at (1010,482) {Students};
\node[tx] (bstud) at (1345,450) {Students};
\node[tx] (parent) at (1104,712) {Parent};
\node[bti] (isola) at (854,724) {Isola Apartments};
\node[bti] (mild) at (477,664) {Mildura Household};
\node[tx] (dww) at (805,786) {Derrimut warehouse worker};
\node[tx, anchor=west] (teach) at (1072,833) {Teacher};
\node[bti] (tsite) at (1470,705) {Testing site};
\node[bti, anchor=west, align=left] (hha) at (206,959) {Households associated\\with AAMI Park};
\node[bti, anchor=west, align=left] (socm) at (401,941) {Social contact\\of M43, M44,\\M59};
\node[bti, anchor=east, align=right] (lax) at (787,1241) {LaCrosse\\Building};
\node[tx] (fpat1) at (694,1036) {Patrons};
\node[tx] (fstaff) at (868,1036) {Staff};
\node[tx] (fpat2) at (1225,1036) {Patrons};
\node[bti, font=\fontsize{6.4}{7.5}\selectfont\itshape] (note) at (982,959) {Note:\ \ Distribution of cases for Ms Frankie across the two days is approximate.};
\node[bti] (hfr) at (1413,969) {Households associated\ \ with Ms Frankie};
% group headings
\node[grp, text=gtx] (ariele) at (657,52) {Ariele apartment Complex};
\node[grp, text=gtx] (yj) at (849,180) {Young \& Jackson};
\node[grp, text=gtx] (mcg) at (552,411) {MCG};
\node[grp, text=gtx] (phil) at (189,406) {Phillip Island};
\node[grp, text=gtx, anchor=west, align=left] (stp) at (261,525) {St. Patrick's\\Primary School};
\node[grp, text=gtx, anchor=east, align=right] (crafty) at (547,738) {Crafty\\Squire};
\node[grp] (trin) at (987,418) {Trinity Grammar};
\node[grp, anchor=east, align=right] (bacc) at (1313,358) {Bacchus Marsh\\Grammar};
\node[grp] (uiright) at (1441,678) {Under Investigation};
\node[grp, anchor=east, align=right] (uimar) at (902,764) {Under Investigation\\(Maribyrnong)};
\node[grp, anchor=west, align=left] (uihob) at (949,764) {Under Investigation\\(Hobsons Bay)};
\node[grp] (aami) at (404,971) {AAMI Park};
\node[grp] (msf1) at (710,961) {Ms Frankie Restaurant};
\node[grp] (msf2) at (1254,961) {Ms Frankie Restaurant};

% connector ends
\coordinate (arb) at (575,64);
\coordinate (ar3) at (722,100);
\coordinate (pmb) at (954,123);
\coordinate (pmj) at (954,161);
\coordinate (yj1) at (639,161);
\coordinate (yj2) at (639,196);
\coordinate (hrb) at (433,100);
\coordinate (h6b) at (211,136);
\coordinate (hbb) at (255,344);
\coordinate (m16b) at (753,258);
\coordinate (wcb) at (955,222);
\coordinate (bmt) at (1347,320);
\coordinate (bms) at (1414,428);
\coordinate (bmu) at (1414,487);
\coordinate (mcgb) at (576,425);
\coordinate (pib) at (237,452);
\coordinate (spb) at (397,547);
\coordinate (mlb) at (513,547);
\coordinate (m12b) at (576,547);
\coordinate (tgb) at (845,452);
\coordinate (cj) at (634,741);
\coordinate (fj) at (634,927);
\coordinate (fbt) at (634,979);
\coordinate (aj1) at (580,927);
\coordinate (aj2) at (580,1021);
\coordinate (aab) at (548,1021);
\coordinate (aat) at (486,986);
\coordinate (f1r) at (955,1121);
\coordinate (f2l) at (1016,1121);
\coordinate (uim) at (870,777);
\coordinate (uih) at (983,777);
\coordinate (dbr) at (870,880);
\coordinate (hbr) at (1041,880);
\coordinate (uir) at (1414,685);
\coordinate (m202b) at (1414,834);

% transmission links
\draw[gl, gen={1}{.5}] (rem) -- (arb);
\draw[gl, ->, gen={1}{.5}] (H3) -- (H5);
\draw[gl, ->, gen={1}{.5}] (H3) -- (H1);
\draw[gl, ->, gen={1}{.5}] (H3) -- (H2);
\draw[gl, ->, gen={1}{.5}] (H3) -- (H4);
\draw[gl, gen={1}{.5}] (H3) -- (hrb);
\draw[gl, gen={2}{.5}] (H5) -- (h6b);
\draw[bl, gen={2}{.5}] (H11) -- (hbb);
\draw[gl, ->, gen={2}{.5}] (ar3) -- (M14);
\draw[gl, gen={2}{.5}] (pmb) -- (pmj);
\draw[gl, ->, gen={1}{.645}] (M4) -- (M7);
\draw[gl, gen={2}{.5}] (yj1) -- (yj2);
\draw[gl, gen={2}{.58}] (M4) -- (mcgb);
\draw[gl, gen={2}{.5}] (M16) -- (m16b);
\draw[bl, ->, gen={3}{.5}] (M60) -- (M154);
\draw[bl, gen={3}{.5}] (M60) -- (wcb);
\draw[gl, ->, gen={3}{.4}] (M36) -- (M37);
\draw[gl, ->, gen={3}{.5}] (M86) -- (M87);
\draw[gl] (casey.north) -- (M87.south west);
\draw[gl, ->, gen={2}{.5}] (M7) -- (M8);
\draw[gl, ->, gen={3}{.5}] (M7) -- (M9);
\draw[gl, ->, gen={3}{.4}] (M7) -- (M17);
\draw[gl, gen={2}{.18}] (M7) -- (bmt);
\draw[gl, ->, gen={3}{.5}] (M46) -- (M90);
\draw[gl, ->, gen={3}{.5}] (M46) -- (M91);
\draw[bl, gen={3}{.5}] (bms) -- (bmu);
\draw[gl, gen={3}{.4}] (pib) -- (M24);
\draw[gl, gen={2}{.47}] (M10) -- (spb);
\draw[bl, gen={2}{.47}] (M50) -- (mlb);
\draw[gl, gen={2}{.47}] (M12) -- (m12b);
\draw[gl, ->, gen={3}{.5}] (M13) -- (M116);
\draw[gl, ->, gen={3}{.5}] (M13) -- (M27);
\draw[gl, ->, gen={3}{.5}] (M27) -- (M95);
\draw[gl, ->, gen={3}{.5}] (M95) -- (M131);
\draw[bl, gen={3}{.5}] (M13) -- (tgb);
\draw[bl] (M13) -- (fj);
\draw[gl, ->, gen={3}{.5}] (cj) -- (M62);
\draw[bl, gen={3}{.6}] (fj) -- (fbt);
\draw[bl] (fj) -- (aj1) -- (aj2);
\draw[bl, gen={2}{.5}] (aj2) -- (aab);
\draw[bl, ->, gen={3}{.5}] (aat) -- (M133);
\draw[bl, ->, gen={4}{.5}] (M22) -- (M141);
\draw[bl, ->, gen={4}{.5}] (M22) -- (M142);
\draw[bl, ->, gen={4}{.4}] (M22) -- (M190);
\draw[gl, ->, gen={4}{.4}] (M23) -- (M49);
\draw[bl, ->] (uim) -- (D1);
\draw[bl, ->] (D1) -- (D2);
\draw[bl] (D1) -- (dbr);
\draw[bl, ->] (uih) -- (HB1);
\draw[bl, ->] (HB1) -- (HB2);
\draw[bl] (HB2) -- (hbr);
\draw[bl, ->] (uir) -- (M182);
\draw[bl, ->] (M182) -- (M199);
\draw[bl, ->] (M182) -- (M192);
\draw[bl, ->] (M182) -- (M193);
\draw[bl, ->] (M182) -- (M202);
\draw[bl] (M202) -- (m202b);
\draw[bl, ->, gen={4}{.5}] (M119) -- (M134);
\draw[gl, ->, gen={4}{.5}] (M119) -- (M123);
\draw[gl, ->, gen={4}{.5}] (M119) -- (M122);
\draw[bl, gen={4}{.5}] (f1r) -- (f2l);
\draw[bl, ->, gen={4}{.5}] (M125) -- (M187);
\draw[bl, ->, gen={4}{.5}] (M125) -- (M188);
\draw[bl, ->, gen={4}{.5}] (M80) -- (M139);
\draw[bl, ->, gen={4}{.5}] (M80) -- (M140);
\end{tikzpicture}
\end{document}
